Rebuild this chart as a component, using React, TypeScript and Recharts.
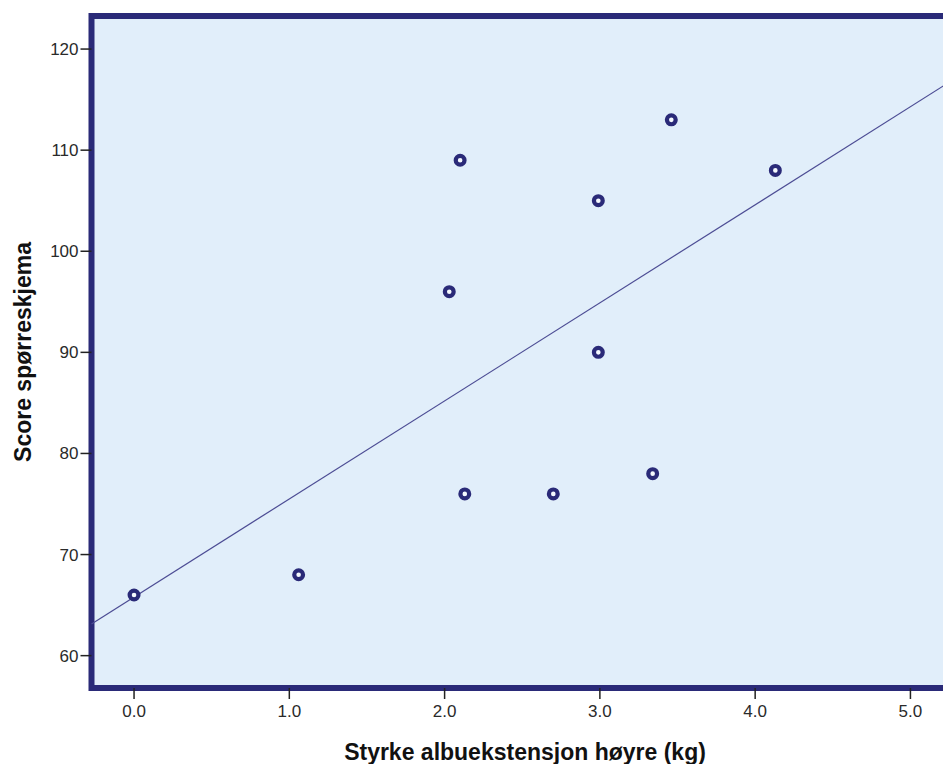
import {
  ScatterChart,
  Scatter,
  XAxis,
  YAxis,
  ReferenceArea,
  ReferenceLine,
} from "recharts";

// albue-ekstensjon (kg) og skår på spørreskjema, lest av figuren
const strength = [0.0, 1.06, 2.03, 2.1, 2.13, 2.7, 2.99, 2.99, 3.34, 3.46, 4.13];
const score = [66, 68, 96, 109, 76, 76, 105, 90, 78, 113, 108];

const xTicks = [0, 1, 2, 3, 4, 5];
const yTicks = [60, 70, 80, 90, 100, 110, 120];

const xDomain: [number, number] = [-0.274, 5.448];
const yDomain: [number, number] = [56.8, 123.27];

const navy = "#2a2a78";
const font = "'Liberation Sans', Arial, sans-serif";

const points = strength.map((x, i) => ({ x, y: score[i] }));

// minste kvadraters linje
const n = points.length;
const mx = strength.reduce((a, b) => a + b, 0) / n;
const my = score.reduce((a, b) => a + b, 0) / n;
let sxy = 0;
let sxx = 0;
points.forEach((p) => {
  sxy += (p.x - mx) * (p.y - my);
  sxx += (p.x - mx) * (p.x - mx);
});
const slope = sxy / sxx;
const intercept = my - slope * mx;
const fit = (x: number) => intercept + slope * x;

const Ring = (props: any) => {
  const { cx, cy } = props;
  if (cx == null || cy == null) return null;
  return <circle cx={cx} cy={cy} r={4.4} fill="#f5f9fe" stroke={navy} strokeWidth={4.2} />;
};

export default function App() {
  return (
    <div
      style={{
        position: "absolute",
        left: 0,
        top: 0,
        width: 943,
        height: 764,
        overflow: "hidden",
        background: "#fff",
      }}
    >
      <ScatterChart
        width={980}
        height={764}
        margin={{ top: 16, right: 0, bottom: 0, left: 0 }}
      >
        <ReferenceArea
          x1={xDomain[0]}
          x2={xDomain[1]}
          y1={yDomain[0]}
          y2={yDomain[1]}
          fill="#e1eefa"
          fillOpacity={1}
          stroke={navy}
          strokeWidth={6}
          ifOverflow="visible"
        />
        <XAxis
          type="number"
          dataKey="x"
          domain={xDomain}
          ticks={xTicks}
          allowDataOverflow
          tickFormatter={(v: number) => v.toFixed(1)}
          height={76}
          axisLine={false}
          tickLine={{ stroke: "#222", strokeWidth: 1.5 }}
          tickSize={11}
          tickMargin={6}
          tick={{ fill: "#2a2a2a", fontSize: 17, fontFamily: font }}
        />
        <YAxis
          type="number"
          dataKey="y"
          domain={yDomain}
          ticks={yTicks}
          allowDataOverflow
          width={91.5}
          axisLine={false}
          tickLine={{ stroke: "#222", strokeWidth: 1.5 }}
          tickSize={11}
          tickMargin={2}
          tick={{ fill: "#2a2a2a", fontSize: 17, fontFamily: font }}
        />
        <ReferenceLine
          segment={[
            { x: xDomain[0], y: fit(xDomain[0]) },
            { x: xDomain[1], y: fit(xDomain[1]) },
          ]}
          stroke="#4c4c94"
          strokeWidth={1.2}
          ifOverflow="visible"
        />
        <Scatter data={points} shape={Ring} isAnimationActive={false} />
        <text
          x={176}
          y={72}
          fontFamily={font}
          fontSize={22}
          fontWeight="bold"
          fill="#111"
        >
          r = 0.62, p = 0.043
        </text>
        <text
          x={525}
          y={760}
          textAnchor="middle"
          fontFamily={font}
          fontSize={23}
          fontWeight="bold"
          fill="#111"
        >
          Styrke albuekstensjon høyre (kg)
        </text>
        <text
          x={31}
          y={352}
          textAnchor="middle"
          transform="rotate(-90 31 352)"
          fontFamily={font}
          fontSize={23}
          fontWeight="bold"
          fill="#111"
        >
          Score spørreskjema
        </text>
      </ScatterChart>
    </div>
  );
}
